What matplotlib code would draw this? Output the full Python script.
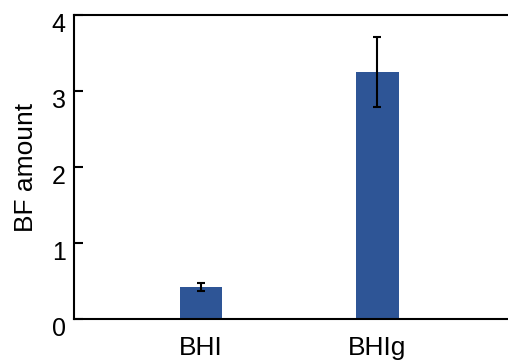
import matplotlib
matplotlib.use("Agg")
import matplotlib.pyplot as plt
import matplotlib.transforms as mtransforms

plt.rcParams['font.family'] = ['Liberation Sans', 'DejaVu Sans']

categories = ["BHI", "BHIg"]
values = [0.42, 3.25]
errors = [0.05, 0.46]
yticks = [0, 1, 2, 3, 4]

fig = plt.figure(figsize=(5.08, 3.6), dpi=100)
ax = fig.add_axes([74/508, 41/360, 1 - 74/508, 304/360])

x = list(range(len(categories)))
ax.bar(x, values, width=0.244, color="#2E5596", zorder=2)
ax.errorbar(x, values, yerr=errors, fmt="none", ecolor="black",
            elinewidth=1.5, capsize=3, capthick=1.5, zorder=3)

ax.set_xlim(-0.7216, 1.744)
ax.set_ylim(0, 4)
ax.set_xticks(x)
ax.set_xticklabels(categories, fontsize=19)
ax.set_yticks(yticks)
ax.set_yticklabels([str(t) for t in yticks], fontsize=18)
ax.tick_params(axis='x', length=0, pad=12)
ax.tick_params(axis='y', direction='in', length=6.5, width=1.5, pad=6)
for lab in ax.get_yticklabels():
    lab.set_transform(lab.get_transform() + mtransforms.ScaledTranslation(0, -8/100, fig.dpi_scale_trans))

ax.set_ylabel("BF amount", fontsize=19, labelpad=10)
ax.spines['right'].set_visible(False)
for s in ['left', 'top', 'bottom']:
    ax.spines[s].set_linewidth(1.5)

fig.savefig("out.png", dpi=100)
